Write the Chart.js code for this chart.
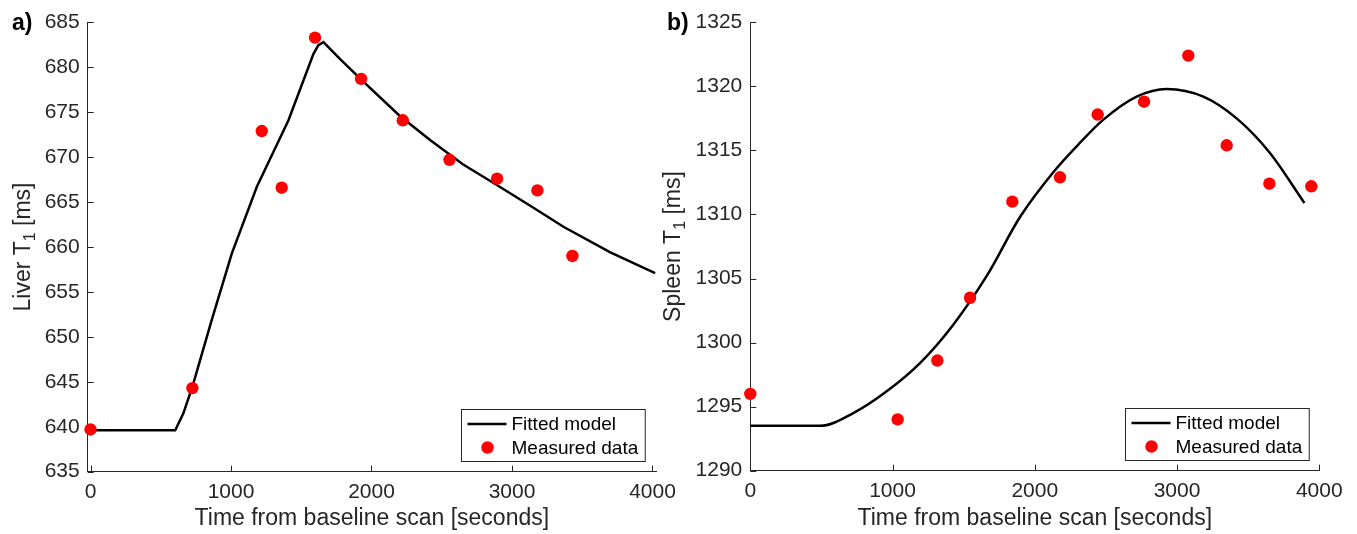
<!DOCTYPE html>
<html>
<head>
<meta charset="utf-8">
<script src="https://cdn.jsdelivr.net/npm/chart.js@4/dist/chart.umd.min.js"></script>
<style>
  body { margin: 0; background: #fff; width: 1357px; height: 534px; overflow: hidden; position: relative; }
  canvas { position: absolute; top: 0; }
  #liver-chart { left: 0; }
  #spleen-chart { left: 662px; }
</style>
</head>
<body>
<canvas id="liver-chart" width="690" height="534"></canvas>
<canvas id="spleen-chart" width="695" height="534"></canvas>
<script>
const FONT = "'Liberation Sans', Arial, Helvetica, sans-serif";
const INK = '#262626';

// a) liver
const liverTimes = [0, 725, 1219, 1361, 1598, 1926, 2223, 2555, 2894, 3181, 3430];
const liverT1 = [639.7, 644.3, 672.9, 666.6, 683.3, 678.7, 674.1, 669.7, 667.6, 666.3, 659.0];
const liverFitTimes = [0, 603, 661, 725, 863, 1006, 1184, 1409, 1587, 1622, 1658, 1777, 1942, 2200, 2417, 2650, 2892, 3150, 3366, 3700, 4019];
const liverFit = [639.6, 639.6, 641.5, 644.45, 651.9, 659.3, 666.7, 674.1, 681.5, 682.45, 682.8, 680.9, 678.4, 674.6, 671.9, 669.2, 666.9, 664.4, 662.25, 659.4, 657.1];
const liverTicksX = [0, 1000, 2000, 3000, 4000];
const liverTicksY = [635, 640, 645, 650, 655, 660, 665, 670, 675, 680, 685];

// b) spleen
const spleenTimes = [0, 1036, 1315, 1545, 1842, 2177, 2442, 2768, 3079, 3349, 3649, 3944];
const spleenT1 = [1296.0, 1294.0, 1298.6, 1303.5, 1311.0, 1312.9, 1317.8, 1318.8, 1322.4, 1315.4, 1312.4, 1312.2];
const spleenFitTimes = [0, 490, 724, 959, 1193, 1427, 1662, 1896, 2130, 2318, 2482, 2716, 2927, 3185, 3419, 3653, 3895];
const spleenFit = [1293.5, 1293.5, 1294.5, 1296.2, 1298.4, 1301.4, 1305.2, 1309.8, 1313.3, 1315.6, 1317.4, 1319.2, 1319.8, 1319.2, 1317.5, 1314.8, 1310.9];
const spleenTicksX = [0, 1000, 2000, 3000, 4000];
const spleenTicksY = [1290, 1295, 1300, 1305, 1310, 1315, 1320, 1325];

const xLabel = 'Time from baseline scan [seconds]';

// matlab style ticks pointing into the plot
const inwardTicks = {
    id: 'inwardTicks',
    beforeDatasetsDraw(chart) {
        const { ctx, chartArea: { left, bottom }, scales: { x, y } } = chart;
        ctx.save();
        ctx.strokeStyle = INK;
        ctx.lineWidth = 1;
        ctx.beginPath();
        x.ticks.forEach(t => {
            const px = Math.round(x.getPixelForValue(t.value)) + 0.5;
            ctx.moveTo(px, bottom);
            ctx.lineTo(px, bottom - 6);
        });
        y.ticks.forEach(t => {
            const py = Math.round(y.getPixelForValue(t.value)) + 0.5;
            ctx.moveTo(left, py);
            ctx.lineTo(left + 6, py);
        });
        ctx.stroke();
        ctx.restore();
    }
};

// panel letter + y title with subscript
const panelDecor = {
    id: 'panelDecor',
    afterDraw(chart, args, opts) {
        const { ctx, chartArea } = chart;
        ctx.save();
        ctx.fillStyle = '#000';
        ctx.font = `bold 23px ${FONT}`;
        ctx.textBaseline = 'middle';
        ctx.textAlign = 'left';
        ctx.fillText(opts.panel, opts.panelX, chartArea.top + 1);

        const big = `23px ${FONT}`, small = `16px ${FONT}`;
        ctx.fillStyle = INK;
        ctx.font = big;
        const w1 = ctx.measureText(opts.main).width;
        const w3 = ctx.measureText(opts.tail).width;
        ctx.font = small;
        const w2 = ctx.measureText(opts.sub).width;
        const total = w1 + w2 + w3;
        ctx.translate(opts.titleX, (chartArea.top + chartArea.bottom) / 2);
        ctx.rotate(-Math.PI / 2);
        ctx.textBaseline = 'alphabetic';
        let pos = -total / 2;
        ctx.font = big;
        ctx.fillText(opts.main, pos, 8);
        pos += w1;
        ctx.font = small;
        ctx.fillText(opts.sub, pos, 13);
        pos += w2;
        ctx.font = big;
        ctx.fillText(opts.tail, pos, 8);
        ctx.restore();
    }
};

// boxed legend in the lower right corner
const boxLegend = {
    id: 'boxLegend',
    afterDraw(chart) {
        const { ctx, chartArea } = chart;
        const sets = chart.data.datasets;
        ctx.save();
        ctx.font = `19px ${FONT}`;
        const textW = Math.max(...sets.map(d => ctx.measureText(d.label).width));
        const w = 50 + textW + 7, h = 52;
        const x0 = Math.round(chartArea.right - 11 - w) + 0.5;
        const y0 = Math.round(chartArea.bottom - 11 - h) + 0.5;
        ctx.fillStyle = '#fff';
        ctx.fillRect(x0, y0, w, h);
        ctx.strokeStyle = INK;
        ctx.lineWidth = 1;
        ctx.strokeRect(x0, y0, w, h);
        sets.forEach((d, i) => {
            const cy = y0 + 14.5 + i * 23.5;
            if (d.showLine) {
                ctx.strokeStyle = d.borderColor;
                ctx.lineWidth = d.borderWidth;
                ctx.beginPath();
                ctx.moveTo(x0 + 6, cy);
                ctx.lineTo(x0 + 45, cy);
                ctx.stroke();
            } else {
                ctx.fillStyle = d.backgroundColor;
                ctx.beginPath();
                ctx.arc(x0 + 26, cy, d.pointRadius, 0, Math.PI * 2);
                ctx.fill();
            }
            ctx.fillStyle = '#000';
            ctx.textBaseline = 'middle';
            ctx.fillText(d.label, x0 + 50, cy + 1);
        });
        ctx.restore();
    }
};

function makePanel(id, cfg) {
    const ctx = document.getElementById(id).getContext('2d');
    return new Chart(ctx, {
        type: 'scatter',
        data: {
            datasets: [{
                label: 'Fitted model',
                data: cfg.fitX.map((t, i) => ({ x: t, y: cfg.fitY[i] })),
                showLine: true,
                borderColor: '#000',
                borderWidth: 2.5,
                pointRadius: 0,
                tension: 0,
                cubicInterpolationMode: cfg.smooth ? 'monotone' : 'default',
                order: 2
            }, {
                label: 'Measured data',
                data: cfg.dataX.map((t, i) => ({ x: t, y: cfg.dataY[i] })),
                backgroundColor: '#ff0000',
                borderWidth: 0,
                pointRadius: 6.2,
                clip: false,
                order: 1
            }]
        },
        options: {
            responsive: false,
            animation: false,
            layout: { padding: { top: 22.3, right: cfg.padRight, left: 0, bottom: 0 } },
            scales: {
                x: {
                    type: 'linear',
                    min: cfg.xMin,
                    max: cfg.xMax,
                    afterBuildTicks: s => { s.ticks = cfg.ticksX.map(v => ({ value: v })); },
                    afterFit: s => {
                        s.height = cfg.xHeight;
                        s.paddingLeft = 0;
                        s.paddingRight = 0;
                    },
                    grid: { display: false, drawTicks: false },
                    border: { display: true, color: INK, width: 1 },
                    ticks: {
                        color: INK,
                        padding: 8,
                        maxRotation: 0,
                        font: { family: FONT, size: 21 },
                        callback: v => String(v)
                    },
                    title: {
                        display: true,
                        text: xLabel,
                        color: INK,
                        padding: { top: 0, bottom: 2 },
                        font: { family: FONT, size: 23 }
                    }
                },
                y: {
                    min: cfg.ticksY[0],
                    max: cfg.ticksY[cfg.ticksY.length - 1],
                    afterBuildTicks: s => { s.ticks = cfg.ticksY.map(v => ({ value: v })); },
                    afterFit: s => {
                        s.width = cfg.yWidth;
                        s.paddingTop = 0;
                        s.paddingBottom = 0;
                    },
                    grid: { display: false, drawTicks: false },
                    border: { display: true, color: INK, width: 1 },
                    ticks: {
                        color: INK,
                        padding: 8,
                        font: { family: FONT, size: 21 },
                        callback: v => String(v)
                    }
                }
            },
            plugins: {
                legend: { display: false },
                tooltip: { enabled: false },
                panelDecor: cfg.decor
            }
        },
        plugins: [inwardTicks, panelDecor, boxLegend]
    });
}

makePanel('liver-chart', {
    fitX: liverFitTimes, fitY: liverFit,
    dataX: liverTimes, dataY: liverT1,
    ticksX: liverTicksX, ticksY: liverTicksY,
    xMin: -20, xMax: 4025,
    smooth: false,
    yWidth: 87.7, xHeight: 62.3, padRight: 34,
    decor: { panel: 'a)', panelX: 12, titleX: 22, main: 'Liver T', sub: '1', tail: ' [ms]' }
});

makePanel('spleen-chart', {
    fitX: spleenFitTimes, fitY: spleenFit,
    dataX: spleenTimes, dataY: spleenT1,
    ticksX: spleenTicksX, ticksY: spleenTicksY,
    xMin: 0, xMax: 4000,
    smooth: true,
    yWidth: 88.3, xHeight: 63.3, padRight: 37.7,
    decor: { panel: 'b)', panelX: 5, titleX: 10, main: 'Spleen T', sub: '1', tail: ' [ms]' }
});
</script>
</body>
</html>
